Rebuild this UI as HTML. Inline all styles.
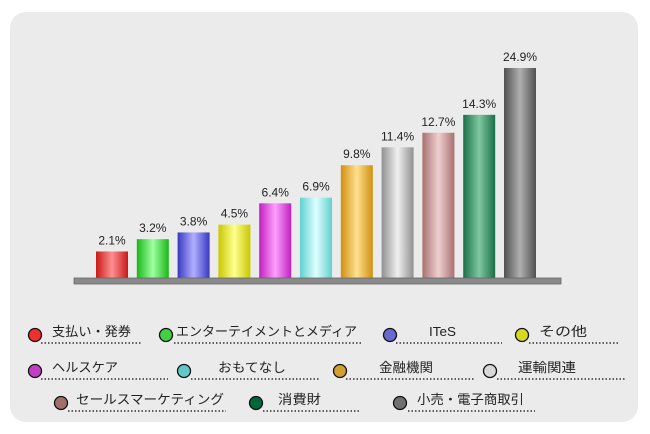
<!DOCTYPE html>
<html><head><meta charset="utf-8"><style>
body{margin:0;background:#fff;}
svg{display:block;font-family:"Liberation Sans","Noto Sans CJK JP",sans-serif;}
</style></head><body>
<svg id="c" width="650" height="434" viewBox="0 0 650 434">
<rect x="10" y="12" width="628" height="410" rx="16" fill="#ebebeb"/>
<defs id="defs"></defs>
<g id="bars"></g>
<rect x="74" y="278" width="487" height="6" fill="#8a8a8a" stroke="#666" stroke-width="0.8"/>
<g id="legend"></g>
</svg>
<script>
const categories=["支払い・発券","エンターテイメントとメディア","ITeS","その他","ヘルスケア","おもてなし","金融機関","運輸関連","セールスマーケティング","消費財","小売・電子商取引"];
const values=[2.1,3.2,3.8,4.5,6.4,6.9,9.8,11.4,12.7,14.3,24.9];
const labels=["2.1%","3.2%","3.8%","4.5%","6.4%","6.9%","9.8%","11.4%","12.7%","14.3%","24.9%"];
const dark=["#c81818","#18b818","#3838c0","#c8c800","#c020c0","#60d0d0","#d09010","#909090","#a87070","#1a7048","#505050"];
const light=["#ff9090","#a0ffa0","#b0b0ff","#ffff90","#ffa0ff","#e0ffff","#ffe090","#f0f0f0","#f0d0d0","#80c8a0","#b0b0b0"];
const legendColors=["#f03030","#40d040","#6868d0","#d8d820","#c040c0","#60c8c8","#d0a030","#d8d8d8","#a07068","#006838","#707070"];
const NS="http://www.w3.org/2000/svg";
const base=278;
function yScale(v){return v<=15?11.2*v+3:171+(v-15)*3.94;}
function xScale(i){return 96+i*40.8;}
const defs=document.getElementById('defs'),bars=document.getElementById('bars');
values.forEach((v,i)=>{
  const g=document.createElementNS(NS,'linearGradient');g.id='g'+i;
  g.innerHTML=`<stop offset="0" stop-color="${dark[i]}"/><stop offset="0.5" stop-color="${light[i]}"/><stop offset="1" stop-color="${dark[i]}"/>`;
  defs.appendChild(g);
  const h=yScale(v),x=xScale(i);
  const r=document.createElementNS(NS,'rect');
  r.setAttribute('x',x);r.setAttribute('y',base-h);r.setAttribute('width',32);r.setAttribute('height',h);
  r.setAttribute('fill','url(#g'+i+')');
  
  
  bars.appendChild(r);
  const t=document.createElementNS(NS,'text');
  t.setAttribute('x',x+16);t.setAttribute('y',base-h-7);t.setAttribute('text-anchor','middle');
  t.setAttribute('font-size','12');t.setAttribute('fill','#222');t.textContent=labels[i];
  
  
  bars.appendChild(t);
});
// [circleX, rowY, textX, textWidth, dotsStart, dotsEnd]
const leg=[[35,333,52,79,41,141],[166,333,176,181,174,363],[390,333,429,27,396,502],[522,333,539,48,529,618],
[35,369,52,66,41,168],[184,369,218,68,191,319],[340,369,379,54,346,475],[490,369,518,58,497,626],
[61,401,76,148,68,226],[256,401,278,43,263,359],[400,401,417,107,408,535]];
const lg=document.getElementById('legend');
leg.forEach((p,i)=>{
  const g=document.createElementNS(NS,'g');
  
  
  g.innerHTML=`<line x1="${p[4]}" y1="${p[1]+10}" x2="${p[5]}" y2="${p[1]+10}" stroke="#333" stroke-width="1.5" stroke-dasharray="1.5,2"/>
<circle cx="${p[0]}" cy="${p[1]+2}" r="6.5" fill="${legendColors[i]}" stroke="#111" stroke-width="1.3"/>
<text x="${p[2]}" y="${p[1]+3}" font-size="13" fill="#222" textLength="${p[3]}" lengthAdjust="spacingAndGlyphs">${categories[i]}</text>`;
  lg.appendChild(g);
});
</script>
</body></html>
